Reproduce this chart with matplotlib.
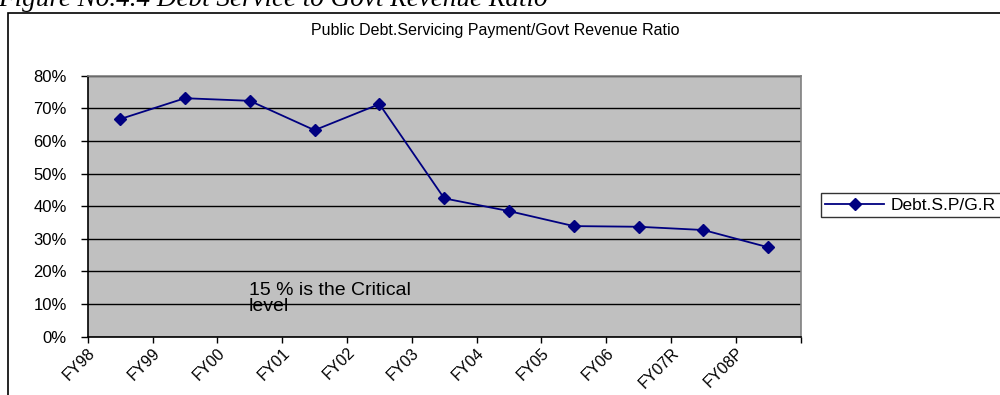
import matplotlib
matplotlib.use("Agg")
import matplotlib.pyplot as plt
import matplotlib.transforms as mtransforms
from matplotlib.patches import Rectangle
import numpy as np

# Fiscal years and debt-servicing / revenue ratio (%)
years = ["FY98", "FY99", "FY00", "FY01", "FY02", "FY03",
         "FY04", "FY05", "FY06", "FY07R", "FY08P"]
ratio = [66.7, 73.1, 72.3, 63.3, 71.3, 42.4, 38.5, 33.9, 33.7, 32.7, 27.4]
y_ticks = [0, 10, 20, 30, 40, 50, 60, 70, 80]
series_label = "Debt.S.P/G.R"
chart_title = "Public Debt.Servicing Payment/Govt Revenue Ratio"
caption = "Figure No.4.4 Debt Service to Govt Revenue Ratio"
note = "15 % is the Critical\nlevel"

W, H = 1000, 395
fig = plt.figure(figsize=(W / 100, H / 100), dpi=100)
fig.patch.set_facecolor("white")

sans = ["Liberation Sans", "DejaVu Sans"]

# chart frame (runs past the right and bottom edges)
fig.add_artist(Rectangle((8 / W, -0.1), 1.2, (H - 13.5) / H + 0.1,
                         transform=fig.transFigure, fill=False,
                         edgecolor="black", linewidth=1.2))

# document caption above the chart frame
fig.text(-2 / W, 1 - 6 / H, caption, ha="left", va="baseline",
         fontsize=19.5, style="italic",
         family=["Liberation Serif", "DejaVu Serif"])

left, right = 87.7 / W, 800.7 / W
bottom, top = 1 - 336.7 / H, 1 - 75.7 / H
ax = fig.add_axes([left, bottom, right - left, top - bottom])
ax.set_facecolor("#C0C0C0")

n = len(years)
xc = np.arange(n) + 0.5
line, = ax.plot(xc, ratio, color="#000080", linewidth=1.3, marker="D",
                markersize=6, markerfacecolor="#000080",
                markeredgecolor="#000080", zorder=3, label=series_label)

ax.set_xlim(0, n)
ax.set_ylim(0, 80)
ax.set_yticks(y_ticks)
ax.set_yticklabels([f"{v}%" for v in y_ticks], family=sans, fontsize=12)
ax.yaxis.grid(True, color="black", linewidth=1.0)
ax.set_axisbelow(True)

ax.set_xticks(np.arange(n + 1))
ax.set_xticklabels(years + [""], family=sans, fontsize=11.5,
                   rotation=45, ha="right", va="top", rotation_mode="anchor")
offset = mtransforms.ScaledTranslation(11 / 100, -2 / 100, fig.dpi_scale_trans)
for lbl in ax.get_xticklabels():
    lbl.set_transform(lbl.get_transform() + offset)

ax.tick_params(axis="y", direction="out", length=5, width=1, pad=10, colors="black")
ax.tick_params(axis="x", direction="out", length=4, width=1, pad=2, colors="black")
for side in ("left", "bottom"):
    ax.spines[side].set_color("black")
    ax.spines[side].set_linewidth(1.2)
for side in ("top", "right"):
    ax.spines[side].set_color("#808080")
    ax.spines[side].set_linewidth(1.2)

fig.text(495 / W, 1 - 30 / H, chart_title, ha="center", va="center",
         fontsize=11.5, family=sans)

fig.text(249 / W, 1 - 282 / H, note, ha="left", va="top",
         fontsize=14, family=sans, linespacing=0.95)

leg = fig.legend(handles=[line], loc="center left",
                 bbox_to_anchor=(820.7 / W, 1 - 216 / H, 0.3, 21.7 / H),
                 mode="expand", frameon=True, fancybox=False,
                 prop={"family": sans, "size": 12.5}, handlelength=3.4,
                 handletextpad=0.4, borderpad=0.25, borderaxespad=0)
leg.get_frame().set_edgecolor("black")
leg.get_frame().set_linewidth(1.0)

fig.savefig("out.png", dpi=100, facecolor="white")
